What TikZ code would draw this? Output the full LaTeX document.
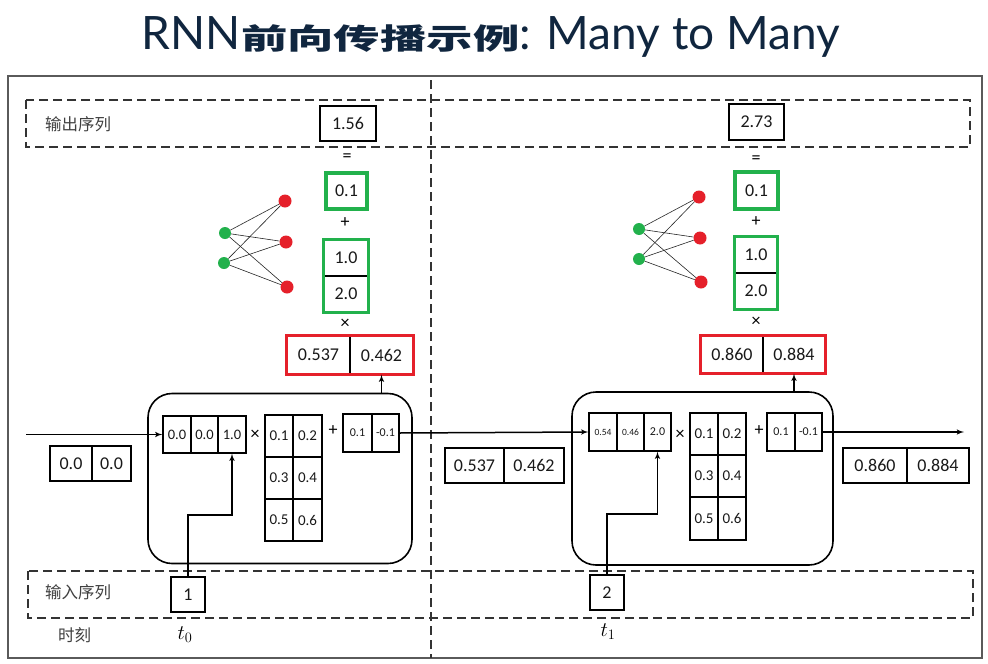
\documentclass[tikz,border=0pt]{standalone}
\usepackage{fontspec}
\setmainfont{Carlito}
\newfontfamily\cjk{Noto Sans CJK SC}
\newfontfamily\titlefont{Lato}
\usepackage{xcolor}
\usetikzlibrary{arrows}

\definecolor{titleblue}{HTML}{10263F}
\definecolor{boxgreen}{HTML}{22B14C}
\definecolor{boxred}{HTML}{E5202A}
\definecolor{framegray}{HTML}{5A5A5A}
\newcommand{\fsz}[1]{\fontsize{#1}{#1}\selectfont}

\begin{document}
\begin{tikzpicture}[x=1pt, y=-1pt, >=latex']
\tikzset{cell/.style 2 args = {shape=rectangle, draw, line width=1.2pt, inner sep=0pt,
  minimum width=#1pt, minimum height=#2pt, font=\fsz{18}, text=black!90}}
\tikzset{gcell/.style = {draw=boxgreen, line width=3.5pt}}
\tikzset{gframe/.style = {draw=boxgreen, line width=3.5pt}}
\tikzset{rframe/.style = {draw=boxred, line width=3.5pt}}
\tikzset{sym/.style = {font=\fsz{18}, inner sep=0pt}}
\tikzset{gneuron/.style = {shape=circle, fill=boxgreen, minimum size=12pt, inner sep=0pt}}
\tikzset{rneuron/.style = {shape=circle, fill=boxred, minimum size=13pt, inner sep=0pt}}
\tikzset{link/.style = {line width=0.6pt, black!85}}
\tikzset{rnncell/.style = {shape=rectangle, draw, line width=1.6pt, rounded corners=24pt}}
\tikzset{arrow/.style = {->, line width=1.5pt}}
\tikzset{seqbox/.style = {dash pattern=on 9pt off 5pt, line width=1.4pt, black!80}}
\tikzset{seqlabel/.style = {anchor=west, font=\cjk\fsz{16.5}, text=black!75, inner sep=0pt}}

\useasboundingbox[fill=white] (0,0) rectangle (988,664);

% title
\node[text=titleblue, inner sep=0pt] (title) at (491,37)
  {\titlefont\fsz{46}RNN\scalebox{1.6}[1]{\cjk\bfseries\fsz{29}前向传播示例}: Many to Many};

% frame and sequence bands
\draw[framegray, line width=1.5pt] (8,76) rectangle (982,658);
\draw[seqbox] (26,100) rectangle (970,147);
\draw[seqbox] (28,571) rectangle (973,618);
\draw[seqbox] (431,80) -- (431,658);

\node[seqlabel] (outlbl) at (45,124) {输出序列};
\node[seqlabel] (inlbl) at (45,592) {输入序列};
\node[seqlabel] (timelbl) at (58,635) {时刻};

% rnn cells
\node[rnncell, minimum width=264pt, minimum height=170pt] (rnn1) at (280,478.5) {};
\node[rnncell, minimum width=261pt, minimum height=173pt] (rnn2) at (702.5,478.5) {};

% time step 0
\node[cell={56}{35}] (o1) at (348,123.5) {1.56};
\node[sym] (eq1) at (347,158) {=};
\node[cell={41}{36}, gcell] (c1) at (346.5,191) {0.1};
\node[sym] (plus1) at (345,223) {+};
\node[cell={44}{36}] (v1a) at (346,258) {1.0};
\node[cell={44}{36}] (v1b) at (346,294) {2.0};
\draw[gframe] (v1a.north west) rectangle (v1b.south east);
\node[sym] (times1) at (345,324) {×};
\node[cell={63}{38}] (y1a) at (318.5,355) {0.537};
\node[cell={63}{38}] (y1b) at (381.5,355) {0.462};
\draw[rframe] (y1a.north west) rectangle (y1b.south east);

\node[gneuron] (n11) at (225,233) {};
\node[gneuron] (n12) at (224,263) {};
\node[rneuron] (r11) at (285,201) {};
\node[rneuron] (r12) at (286,242) {};
\node[rneuron] (r13) at (287,287) {};

\node[cell={42}{35}] (s0a) at (71,463.5) {0.0};
\node[cell={39}{35}] (s0b) at (111.5,463.5) {0.0};

\node[cell={28}{37}, font=\fsz{14.5}] (h1a) at (177,434.5) {0.0};
\node[cell={27}{37}, font=\fsz{14.5}] (h1b) at (204.5,434.5) {0.0};
\node[cell={28}{37}, font=\fsz{14.5}] (h1c) at (232,434.5) {1.0};
\node[sym] (mul1) at (255,435) {×};
\node[cell={28}{42}, font=\fsz{15}] (w1a) at (279,436) {0.1};
\node[cell={29}{42}, font=\fsz{15}] (w1b) at (307.5,436) {0.2};
\node[cell={28}{42}, font=\fsz{15}] (w1c) at (279,478) {0.3};
\node[cell={29}{42}, font=\fsz{15}] (w1d) at (307.5,478) {0.4};
\node[cell={28}{42}, font=\fsz{15}] (w1e) at (279,520) {0.5};
\node[cell={29}{42}, font=\fsz{15}] (w1f) at (307.5,520) {0.6};
\node[sym] (add1) at (333,431) {+};
\node[cell={29}{38}, font=\fsz{12}] (b1a) at (357.5,433) {0.1};
\node[cell={27}{38}, font=\fsz{12}] (b1b) at (385.5,433) {-0.1};

\node[cell={34}{35}] (x1) at (188,594.5) {1};
\node[font=\fsz{20}] (t0) at (185,635) {$t_0$};

% time step 1
\node[cell={55}{36}] (o2) at (756.5,122) {2.73};
\node[sym] (eq2) at (756,160) {=};
\node[cell={43}{37}, gcell] (c2) at (756.5,190.5) {0.1};
\node[sym] (plus2) at (756,222) {+};
\node[cell={42}{36}] (v2a) at (756,255) {1.0};
\node[cell={42}{36}] (v2b) at (756,291) {2.0};
\draw[gframe] (v2a.north west) rectangle (v2b.south east);
\node[sym] (times2) at (756,322) {×};
\node[cell={62}{37}] (y2a) at (732,354.5) {0.860};
\node[cell={62}{37}] (y2b) at (794,354.5) {0.884};
\draw[rframe] (y2a.north west) rectangle (y2b.south east);

\node[gneuron] (n21) at (639,229) {};
\node[gneuron] (n22) at (639,259) {};
\node[rneuron] (r21) at (699,197) {};
\node[rneuron] (r22) at (700,238) {};
\node[rneuron] (r23) at (701,282) {};

\node[cell={59}{35}] (s1a) at (474.5,465.5) {0.537};
\node[cell={60}{35}] (s1b) at (534,465.5) {0.462};

\node[cell={28}{38}, font=\fsz{9.5}] (h2a) at (603,432) {0.54};
\node[cell={27}{38}, font=\fsz{9.5}] (h2b) at (630.5,432) {0.46};
\node[cell={27}{38}, font=\fsz{12}] (h2c) at (657.5,432) {2.0};
\node[sym] (mul2) at (680,435) {×};
\node[cell={28}{42}, font=\fsz{15}] (w2a) at (704,434) {0.1};
\node[cell={28}{42}, font=\fsz{15}] (w2b) at (732,434) {0.2};
\node[cell={28}{42}, font=\fsz{15}] (w2c) at (704,476) {0.3};
\node[cell={28}{42}, font=\fsz{15}] (w2d) at (732,476) {0.4};
\node[cell={28}{43}, font=\fsz{15}] (w2e) at (704,518.5) {0.5};
\node[cell={28}{43}, font=\fsz{15}] (w2f) at (732,518.5) {0.6};
\node[sym] (add2) at (759,431) {+};
\node[cell={28}{38}, font=\fsz{12}] (b2a) at (781,432) {0.1};
\node[cell={27}{38}, font=\fsz{12}] (b2b) at (808.5,432) {-0.1};

\node[cell={64}{35}] (s2a) at (875,465.5) {0.860};
\node[cell={62}{35}] (s2b) at (938,465.5) {0.884};

\node[cell={34}{35}] (x2) at (607,592.5) {2};
\node[font=\fsz{20}] (t1) at (608,632) {$t_1$};

\coordinate (in0) at (26,434.5);
\coordinate (out1) at (964,432);

%edges
\draw[link] (n11) -- (r11);
\draw[link] (n11) -- (r12);
\draw[link] (n11) -- (r13);
\draw[link] (n12) -- (r11);
\draw[link] (n12) -- (r12);
\draw[link] (n12) -- (r13);
\draw[link] (n21) -- (r21);
\draw[link] (n21) -- (r22);
\draw[link] (n21) -- (r23);
\draw[link] (n22) -- (r21);
\draw[link] (n22) -- (r22);
\draw[link] (n22) -- (r23);

%arrows
\draw[arrow] (in0) -- (h1a.west);
\draw[arrow] (b1b.east) -- (h2a.west);
\draw[arrow] (b2b.east) -- (out1);
\draw[arrow] (y1b.south |- rnn1.north) -- (y1b.south);
\draw[arrow] (y2b.south |- rnn2.north) -- (y2b.south);
\draw[arrow] (x1.north) -- (x1.north |- 0,515) -| (h1c.south);
\draw[arrow] (x2.north) -- (x2.north |- 0,514) -| (h2c.south);

\end{tikzpicture}
\end{document}
